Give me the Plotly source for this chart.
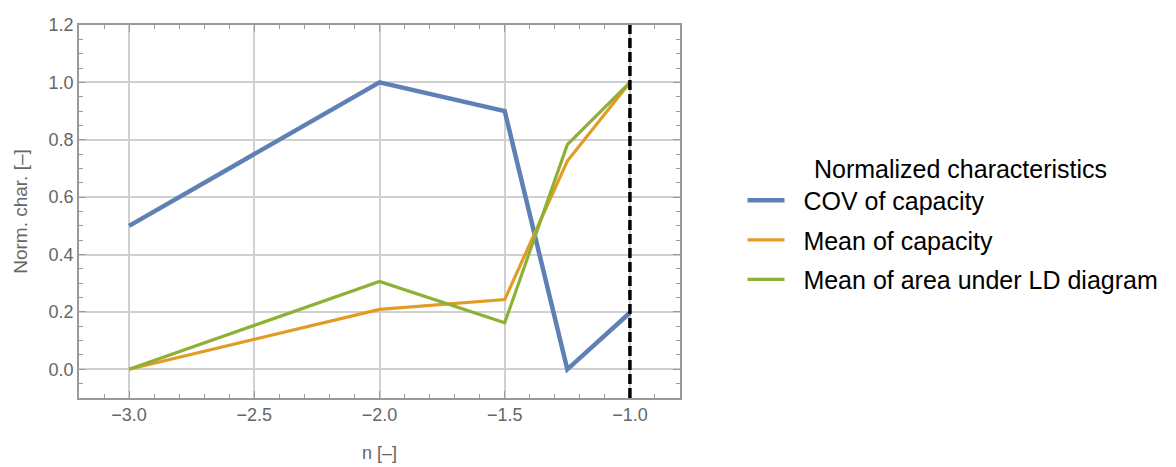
import plotly.graph_objects as go

n_vals = [-3.0, -2.0, -1.5, -1.25, -1.0]
cov_capacity = [0.5, 1.0, 0.9, 0.0, 0.197]
mean_capacity = [0.0, 0.209, 0.243, 0.726, 1.0]
mean_area_ld = [0.0, 0.306, 0.162, 0.783, 1.0]
series_names = ["COV of capacity", "Mean of capacity", "Mean of area under LD diagram"]
marker_n = -1.0

colors = ["#5E81B5", "#E19C24", "#8FB032"]
widths = [4.5, 3.2, 3.2]
FONT = "Liberation Sans, Arial, sans-serif"
NB = "\u00a0"

fig = go.Figure()
for i, (name, ys) in enumerate(zip(series_names, [cov_capacity, mean_capacity, mean_area_ld])):
    fig.add_trace(go.Scatter(x=n_vals, y=ys, mode="lines", name=NB * 2 + name,
                             line=dict(color=colors[i], width=widths[i]),
                             legendgroup=f"g{i}"))

fig.add_vline(x=marker_n, line=dict(color="black", width=3.5, dash="10px,4px"))

axis_common = dict(
    showline=True, linecolor="#9a9a9a", linewidth=1.5, mirror="allticks",
    ticks="inside", ticklen=7, tickcolor="#9a9a9a", tickwidth=1,
    showgrid=True, gridcolor="#d0d0d0", gridwidth=1.5,
    zeroline=False, automargin=False,
    tickfont=dict(family=FONT, size=18, color="#666666"),
)

fig.update_xaxes(range=[-3.2, -0.8], tickmode="array",
                 tickvals=[-3.0, -2.5, -2.0, -1.5, -1.0],
                 ticktext=["−3.0", "−2.5", "−2.0", "−1.5", "−1.0"],
                 minor=dict(dtick=0.1, tick0=-3.0, ticks="inside", ticklen=4, tickcolor="#9a9a9a", showgrid=False),
                 title=dict(text="n [–]", standoff=22,
                            font=dict(family=FONT, size=18, color="#666666")),
                 **axis_common)
fig.update_yaxes(range=[-0.1, 1.2], tickmode="array",
                 tickvals=[0.0, 0.2, 0.4, 0.6, 0.8, 1.0, 1.2],
                 ticktext=["0.0", "0.2", "0.4", "0.6", "0.8", "1.0", "1.2"],
                 minor=dict(dtick=0.05, tick0=0.0, ticks="inside", ticklen=4, tickcolor="#9a9a9a", showgrid=False),
                 title=dict(text="Norm. char. [–]", standoff=16,
                            font=dict(family=FONT, size=19, color="#666666")),
                 **axis_common)

fig.update_layout(
    width=1168, height=459,
    margin=dict(l=71, r=494, t=17, b=69),
    plot_bgcolor="white", paper_bgcolor="white",
    legend=dict(
        x=1.104, xanchor="left", y=0.678, yanchor="top",
        title=dict(text=NB * 10 + "Normalized characteristics",
                   font=dict(family=FONT, size=25, color="black")),
        font=dict(family=FONT, size=25, color="black"),
        tracegroupgap=4, itemwidth=37,
    ),
)

fig.write_html("out.html")
